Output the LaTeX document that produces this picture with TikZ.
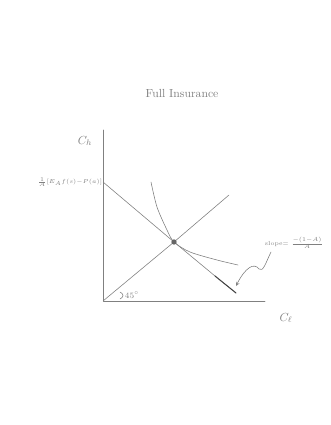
\documentclass[tikz,border=0pt]{standalone}
\tikzstyle{every node}=[font=\normalsize]
\tikzstyle{every path}=[line width=0.5pt, line cap=round, line join=round]
\tikzstyle{small}=[font=\fontsize{5}{6}\selectfont]

\begin{document}
\begin{tikzpicture}[x=0.03cm, y=-0.03cm, color=black!50]
  \useasboundingbox (0,0) rectangle (330,425);

  % Title
  \node (title) at (182,93) {Full Insurance};

  % Axes
  \coordinate (O) at (103,301);
  \coordinate (ytop) at (103,130);
  \coordinate (xend) at (265,301);
  \draw (ytop) -- (O) -- (xend);
  \node (ch) at (85,141) {$C_h$};
  \node (cl) at (286,318) {$C_\ell$};

  % Budget line
  \coordinate (B) at (103,182);
  \coordinate (E) at (174,242);
  \coordinate (Bdark) at (215,276);
  \coordinate (Bend) at (236,293);
  \node[left, small, inner sep=0.5pt] (yint) at (B) {$\frac{1}{A}[E_A f(s){-}P(a)]$};
  \draw (B) -- (E) -- (Bdark);
  \draw[line width=0.9pt, black!75] (Bdark) -- (Bend);

  % 45 degree line
  \coordinate (top45) at (229,195);
  \draw (O) -- (E) -- (top45);
  \draw (120,292) .. controls (124,294) and (124,297) .. (120,299);
  \node[font=\scriptsize] (deg) at (132,295) {$45^\circ$};

  % Indifference curve
  \draw plot[smooth] coordinates {(151,182) (157,207) (167,230) (174,242) (190,252) (217,260) (238,265)};
  \node[circle, fill=black!60, inner sep=1.6pt] (eq) at (E) {};

  % Slope label
  \node[small] (slope) at (294,243) {slope$=\frac{-(1-A)}{A}$};
  \coordinate (arrstart) at (271,252);
  \coordinate (arrtip) at (236,286);
  \draw[-stealth] (arrstart) .. controls (266,262) and (263,273) .. (259,269)
    .. controls (254,262) and (245,268) .. (arrtip);
\end{tikzpicture}
\end{document}
